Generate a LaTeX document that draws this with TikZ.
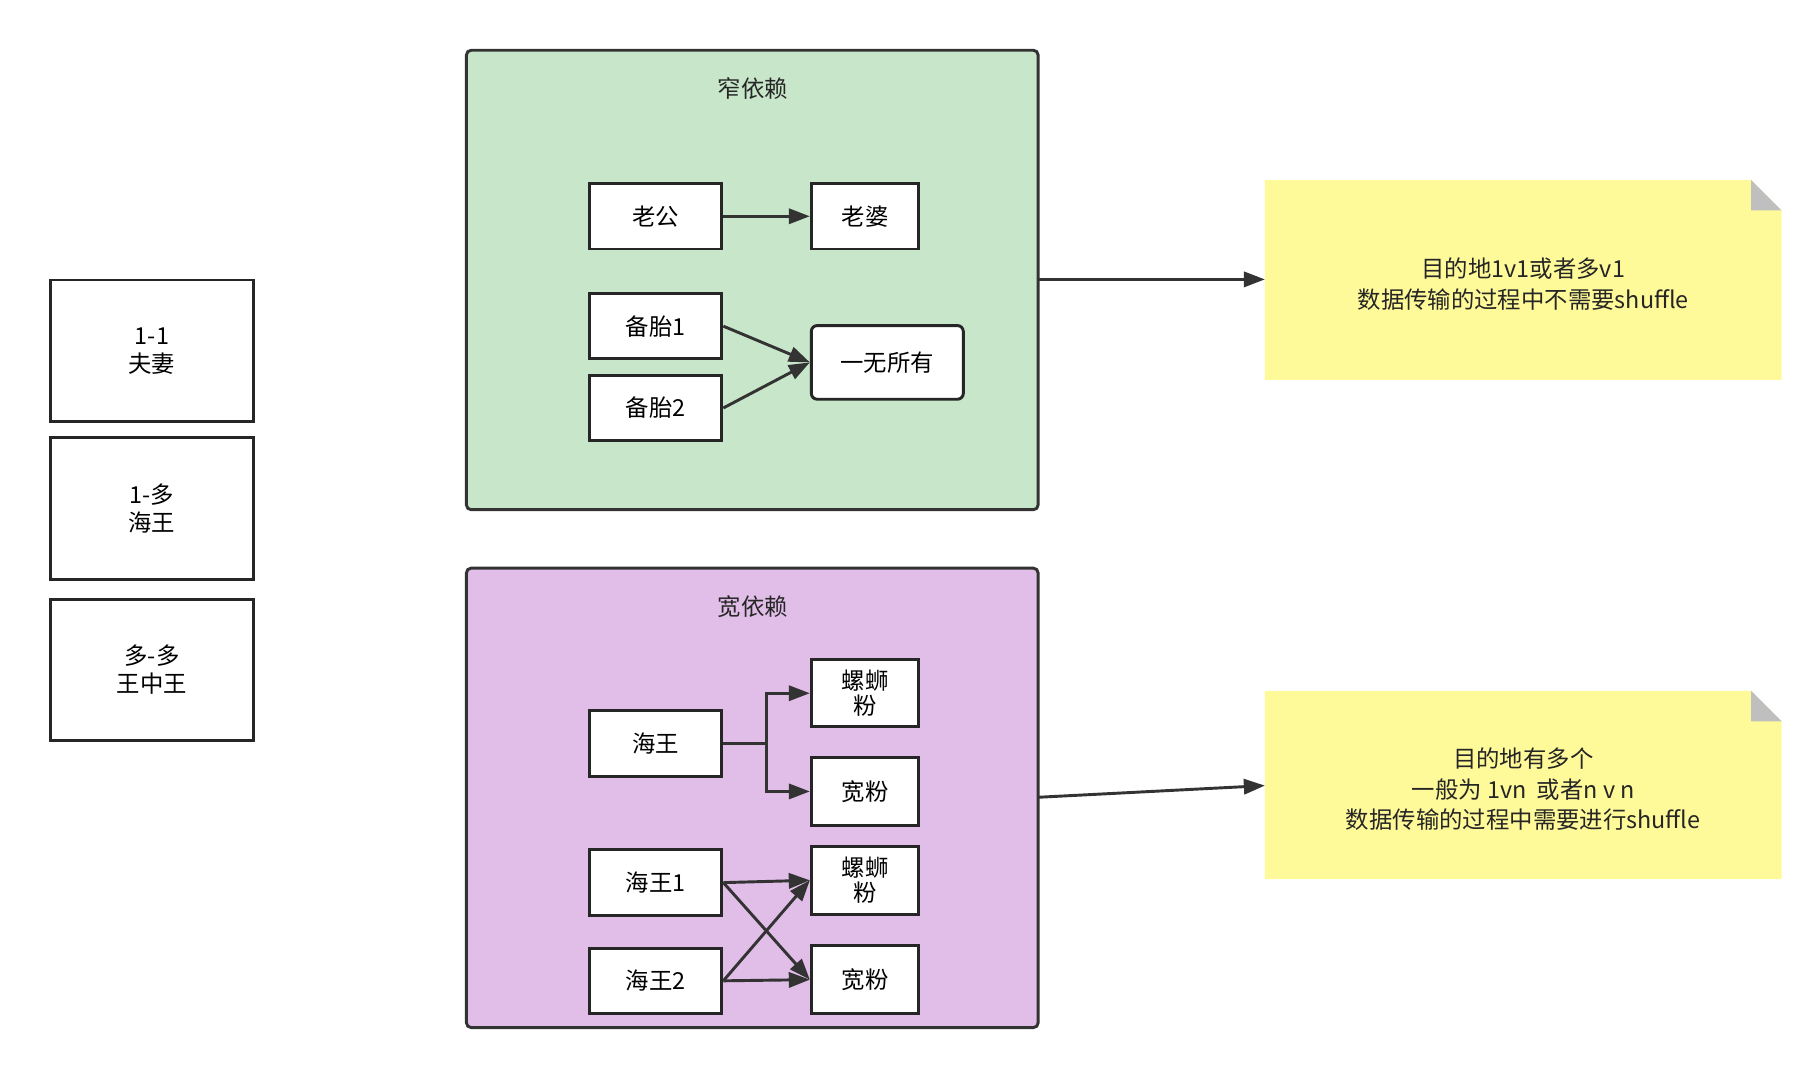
\documentclass[tikz,border=0pt]{standalone}
\usepackage{fontspec}
\setmainfont{Noto Sans CJK SC}
\usetikzlibrary{arrows.meta,calc}
\begin{document}
\begin{tikzpicture}[x=1pt,y=-1pt,
  box/.style={draw=black!85,line width=2.5pt,fill=white,inner sep=0pt,font=\fontsize{20}{24}\selectfont,align=center},
  grp/.style={draw=black!80,line width=2.5pt,rounded corners=4pt},
  arr/.style={line width=2.5pt,draw=black!80,-{Triangle[length=18pt,width=13pt]}},
  note/.style={fill=yellow!40!white,draw=none},
  txt/.style={font=\fontsize{20}{26}\selectfont,align=center,text=black!85}]
\useasboundingbox (0,0) rectangle (1550,912);
% groups
\draw[grp,fill={rgb,255:red,200;green,230;blue,201}] (399,43) rectangle (888,436);
\node[txt] (t1) at (644,76) {窄依赖};
\draw[grp,fill={rgb,255:red,225;green,190;blue,231}] (399,486) rectangle (888,879);
\node[txt] (t2) at (644,519) {宽依赖};
% left boxes
\node[box,minimum width=174pt,minimum height=121pt] (l1) at (130,300) {1-1\\夫妻};
\node[box,minimum width=174pt,minimum height=121pt] (l2) at (130,435) {1-多\\海王};
\node[box,minimum width=174pt,minimum height=121pt] (l3) at (130,573) {多-多\\王中王};
% narrow
\node[box,minimum width=113pt,minimum height=56pt] (lg) at (561,185) {老公};
\node[box,minimum width=92pt,minimum height=56pt] (lp) at (740,185) {老婆};
\node[box,minimum width=113pt,minimum height=56pt] (bt1) at (561,279) {备胎1};
\node[box,minimum width=113pt,minimum height=56pt] (bt2) at (561,349) {备胎2};
\node[box,rounded corners=5pt,minimum width=130pt,minimum height=63pt] (wy) at (759,310) {一无所有};
\draw[arr] (lg.east) -- (lp.west);
\draw[arr] (bt1.east) -- (wy.west);
\draw[arr] (bt2.east) -- (wy.west);
% wide
\node[box,minimum width=113pt,minimum height=56pt] (hw) at (561,636) {海王};
\node[box,minimum width=92pt,minimum height=57pt,font=\fontsize{20}{22}\selectfont] (ls1) at (740,593) {螺蛳\\粉};
\node[box,minimum width=92pt,minimum height=58pt] (kf1) at (740,677) {宽粉};
\draw[arr] (hw.east) -- ++(37,0) |- (ls1.west);
\draw[arr] (hw.east) -- ++(37,0) |- (kf1.west);
\node[box,minimum width=113pt,minimum height=56pt] (hw1) at (561,755) {海王1};
\node[box,minimum width=113pt,minimum height=56pt] (hw2) at (561,839) {海王2};
\node[box,minimum width=92pt,minimum height=58pt,font=\fontsize{20}{22}\selectfont] (ls2) at (740,753) {螺蛳\\粉};
\node[box,minimum width=92pt,minimum height=58pt] (kf2) at (740,838) {宽粉};
\draw[arr] (hw1.east) -- (ls2.west);
\draw[arr] (hw1.east) -- (kf2.west);
\draw[arr] (hw2.east) -- (ls2.west);
\draw[arr] (hw2.east) -- (kf2.west);
% notes
\fill[note] (1082,154) -- (1498,154) -- (1524,180) -- (1524,325) -- (1082,325) -- cycle;
\fill[black!25] (1498,154) -- (1524,180) -- (1498,180) -- cycle;
\node[txt] (n1) at (1303,243) {目的地1v1或者多v1\\数据传输的过程中不需要shuffle};
\fill[note] (1082,591) -- (1498,591) -- (1524,617) -- (1524,752) -- (1082,752) -- cycle;
\fill[black!25] (1498,591) -- (1524,617) -- (1498,617) -- cycle;
\node[txt] (n2) at (1303,675) {目的地有多个\\一般为 1vn\ \ 或者n v n\\数据传输的过程中需要进行shuffle};
\coordinate (g1) at (888,239); \coordinate (e1) at (1082,239);
\coordinate (g2) at (888,682); \coordinate (e2) at (1082,672);
\draw[arr] (g1) -- (e1);
\draw[arr] (g2) -- (e2);
\end{tikzpicture}
\end{document}
